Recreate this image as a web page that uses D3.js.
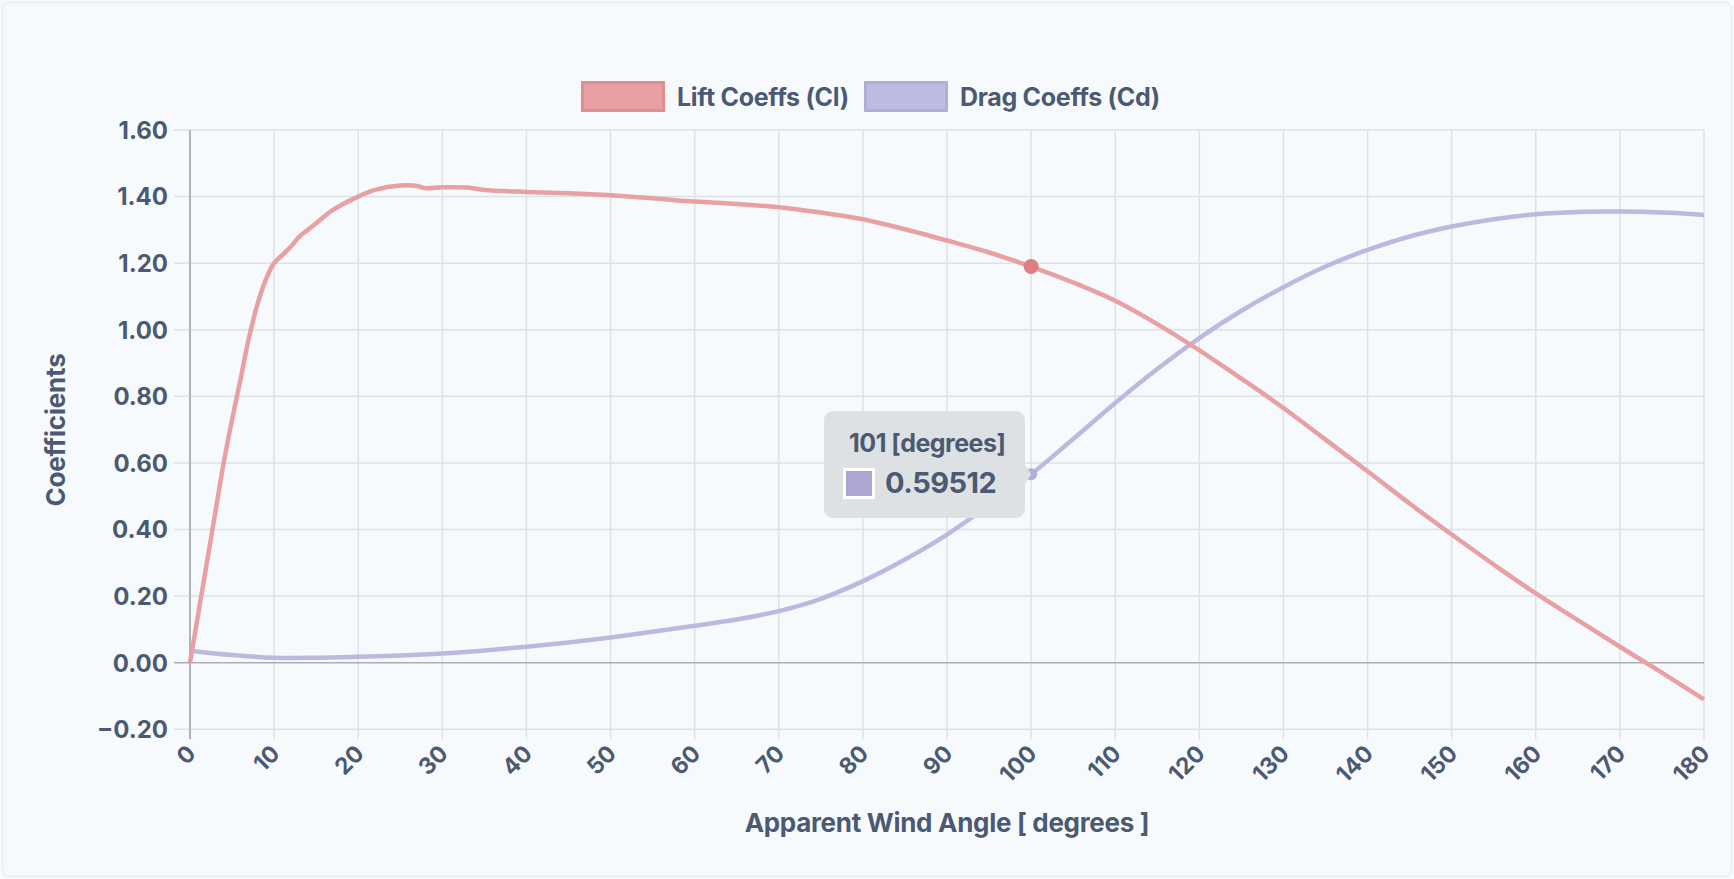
<!DOCTYPE html>
<html><head><meta charset="utf-8">
<script src="https://cdn.jsdelivr.net/npm/d3@7"></script>
<style>
html,body{margin:0;padding:0;background:#f7fafc;}
svg{display:block;font-family:Inter,"Open Sans",sans-serif;}
</style></head><body>
<svg id="chart" width="1734" height="879"></svg>
<script>
// ---- data ----
const liftAngles = [0,1,2,3,4,5,6,7,8,9,10,11,12,13,14,15,17,20,22,25,27,28,30,33,35,40,45,50,55,60,65,70,75,80,85,90,95,100,105,110,115,120,125,130,135,140,145,150,155,160,165,170,175,180];
const liftValues = [0,0.15,0.30,0.45,0.60,0.73,0.85,0.975,1.075,1.15,1.20,1.225,1.25,1.28,1.30,1.32,1.36,1.40,1.42,1.433,1.432,1.425,1.428,1.427,1.42,1.414,1.41,1.404,1.395,1.385,1.378,1.368,1.352,1.332,1.302,1.268,1.232,1.19,1.142,1.087,1.017,0.938,0.853,0.765,0.67,0.575,0.478,0.385,0.295,0.208,0.128,0.048,-0.03,-0.11];
const dragAngles = [0,5,10,15,20,25,30,35,40,45,50,55,60,65,70,75,80,85,90,95,100,105,110,115,120,125,130,135,140,145,150,155,160,165,170,175,180];
const dragValues = [0.036,0.023,0.015,0.015,0.018,0.022,0.028,0.037,0.048,0.061,0.076,0.093,0.111,0.13,0.155,0.192,0.245,0.31,0.385,0.473,0.566,0.672,0.78,0.882,0.975,1.057,1.128,1.19,1.24,1.28,1.31,1.332,1.347,1.354,1.355,1.352,1.345];
const xTickValues = [0,10,20,30,40,50,60,70,80,90,100,110,120,130,140,150,160,170,180];
const yTickValues = [-0.2,0,0.2,0.4,0.6,0.8,1.0,1.2,1.4,1.6];
const seriesNames = ["Lift Coeffs (Cl)","Drag Coeffs (Cd)"];
const tooltipTitle = "101 [degrees]";
const tooltipValue = "0.59512";
const hoverAngle = 100;

// ---- layout ----
const svg = d3.select("#chart");
const W = 1734, H = 879;
const pLeft = 190, pRight = 1704, pTop = 130, pBottom = 729.3;
const textColor = "#4b5a72";
const liftColor = "#e8a0a3", dragColor = "#bdb8e0";

svg.append("rect").attr("x",2.5).attr("y",2.5).attr("width",W-5).attr("height",H-5)
  .attr("rx",6).attr("fill","#f7fafc").attr("stroke","#eaeef2").attr("stroke-width",1.5);

const x = d3.scaleLinear().domain([0,180]).range([pLeft,pRight]);
const y = d3.scaleLinear().domain([-0.2,1.6]).range([pBottom,pTop]);

// grid
const grid = svg.append("g");
grid.selectAll("line.v").data(xTickValues).join("line").attr("class","v")
  .attr("x1",d=>x(d)).attr("x2",d=>x(d)).attr("y1",pTop).attr("y2",pBottom+10)
  .attr("stroke",d=>d===0?"#a9aeb4":"#dde2e7").attr("stroke-width",1.5);
grid.selectAll("line.h").data(yTickValues).join("line").attr("class","h")
  .attr("x1",pLeft-16).attr("x2",pRight).attr("y1",d=>y(d)).attr("y2",d=>y(d))
  .attr("stroke",d=>d===0?"#a9aeb4":"#dde2e7").attr("stroke-width",1.5);
svg.append("line").attr("x1",pLeft).attr("x2",pLeft).attr("y1",pTop).attr("y2",pBottom+10)
  .attr("stroke","#a9aeb4").attr("stroke-width",1.5);

// y axis labels
const yAxis = d3.axisLeft(y).tickValues(yTickValues).tickFormat(d3.format(".2f")).tickSize(0).tickPadding(22);
const yg = svg.append("g").attr("transform",`translate(${pLeft},0)`).call(yAxis);
yg.select(".domain").remove();
yg.selectAll("text").attr("fill",textColor).attr("font-size",24).attr("font-weight",700)
  .attr("font-family","Inter,sans-serif").attr("dy","0.35em");

// x axis labels
const xAxis = d3.axisBottom(x).tickValues(xTickValues).tickFormat(d3.format("d")).tickSize(0);
const xg = svg.append("g").attr("transform",`translate(0,${pBottom})`).call(xAxis);
xg.select(".domain").remove();
xg.selectAll(".tick text")
  .attr("fill",textColor).attr("font-size",23).attr("font-weight",700)
  .attr("font-family","Inter,sans-serif")
  .attr("text-anchor","end").attr("y",0).attr("dy","0.35em")
  .attr("transform","translate(1,20) rotate(-45)");

// axis titles
svg.append("text").attr("x",(pLeft+pRight)/2).attr("y",823).attr("dy","0.35em")
  .attr("text-anchor","middle").attr("fill",textColor).attr("font-size",26).attr("font-weight",700)
  .attr("letter-spacing","-0.3").text("Apparent Wind Angle [ degrees ]");
svg.append("text").attr("transform","translate(56,430) rotate(-90)").attr("dy","0.35em")
  .attr("text-anchor","middle").attr("fill",textColor).attr("font-size",26).attr("font-weight",700)
  .attr("letter-spacing","-0.2").text("Coefficients");

// lines
const line = d3.line().x(d=>x(d[0])).y(d=>y(d[1])).curve(d3.curveCatmullRom.alpha(0.5));
const liftData = liftAngles.map((a,i)=>[a,liftValues[i]]);
const dragData = dragAngles.map((a,i)=>[a,dragValues[i]]);
svg.append("path").datum(dragData).attr("d",line).attr("fill","none")
  .attr("stroke",dragColor).attr("stroke-width",4.5).attr("stroke-linejoin","round");
svg.append("path").datum(liftData).attr("d",line).attr("fill","none")
  .attr("stroke",liftColor).attr("stroke-width",4.5).attr("stroke-linejoin","round");

// hover points
const liftAt = liftValues[liftAngles.indexOf(hoverAngle)];
const dragAt = dragValues[dragAngles.indexOf(hoverAngle)];
svg.append("circle").attr("cx",x(hoverAngle)).attr("cy",y(liftAt)).attr("r",7.5).attr("fill","#e07d82");
svg.append("circle").attr("cx",x(hoverAngle)).attr("cy",y(dragAt)).attr("r",6).attr("fill","#b4acdb");

// legend
const legend = svg.append("g");
const legendItems = [
  {name:seriesNames[0], bx:581, tx:677, fill:"#e8a0a3", stroke:"#e28d92"},
  {name:seriesNames[1], bx:864, tx:960, fill:"#bebbe2", stroke:"#b2acda"}
];
legendItems.forEach(it=>{
  legend.append("rect").attr("x",it.bx+1.5).attr("y",82.5).attr("width",81).attr("height",28)
    .attr("fill",it.fill).attr("stroke",it.stroke).attr("stroke-width",3);
  legend.append("text").attr("x",it.tx).attr("y",97).attr("dy","0.35em")
    .attr("fill",textColor).attr("font-size",25).attr("font-weight",700).attr("letter-spacing","-0.3")
    .text(it.name);
});

// tooltip
const tip = svg.append("g");
const tx0 = 824, ty0 = 411, tw = 201, th = 107;
const caretX = x(hoverAngle), caretY = y(dragAt);
tip.append("path")
  .attr("d",`M${tx0+tw-1},${caretY-11} L${caretX},${caretY} L${tx0+tw-1},${caretY+11} Z`)
  .attr("fill","#dde1e4");
tip.append("rect").attr("x",tx0).attr("y",ty0).attr("width",tw).attr("height",th).attr("rx",9)
  .attr("fill","#dde1e4");
tip.append("text").attr("x",849).attr("y",452).attr("fill",textColor).attr("font-size",25)
  .attr("font-weight",700).attr("letter-spacing","-0.5").text(tooltipTitle);
tip.append("rect").attr("x",844.5).attr("y",469.5).attr("width",29).attr("height",28)
  .attr("fill","#ada6d3").attr("stroke","#ffffff").attr("stroke-width",3);
tip.append("text").attr("x",885).attr("y",493).attr("fill",textColor).attr("font-size",29)
  .attr("font-weight",700).attr("letter-spacing","-0.5").text(tooltipValue);
</script>
</body></html>
